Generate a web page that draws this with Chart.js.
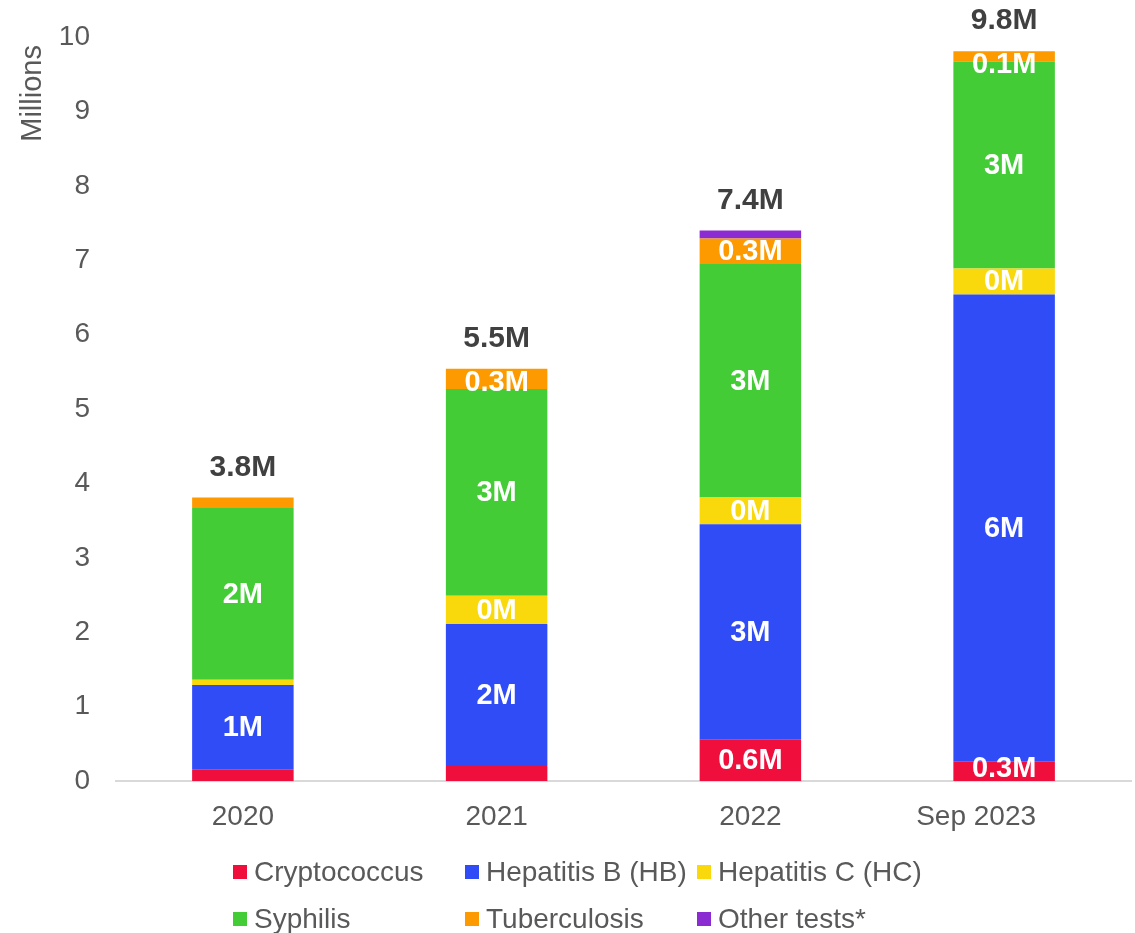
<!DOCTYPE html>
<html>
<head>
<meta charset="utf-8">
<title>Tests performed by year</title>
<script src="https://cdn.jsdelivr.net/npm/chart.js@4.4.1/dist/chart.umd.min.js"></script>
<style>
  html, body { margin: 0; padding: 0; background: #ffffff; }
  #wrap { width: 1135px; height: 933px; }
</style>
</head>
<body>
<div id="wrap"><canvas id="chart" width="1135" height="933"></canvas></div>
<script>
// Categories (x axis)
const categories = ['2020', '2021', '2022', 'Sep 2023'];

// Tests per year, in millions
const cryptococcus = [0.15, 0.20, 0.56, 0.26];
const hepatitisB   = [1.14, 1.91, 2.89, 6.28];
const hepatitisC   = [0.07, 0.38, 0.36, 0.35];
const syphilis     = [2.31, 2.78, 3.14, 2.78];
const tuberculosis = [0.14, 0.27, 0.34, 0.14];
const otherTests   = [0, 0, 0.11, 0];

// Which segments carry a value label
const cryptococcusLabels = [false, false, true, true];
const hepatitisBLabels   = [true, true, true, true];
const hepatitisCLabels   = [false, true, true, true];
const syphilisLabels     = [true, true, true, true];
const tuberculosisLabels = [false, true, true, true];
const otherTestsLabels   = [false, false, false, false];

// Y axis ticks
const yTicks = [0, 1, 2, 3, 4, 5, 6, 7, 8, 9, 10];

const FONT = '"Liberation Sans", Arial, Helvetica, sans-serif';
const GREY = '#595959';

function series(label, data, color, shown, decimals) {
  return { label, data, backgroundColor: color, borderWidth: 0, labelShown: shown, labelDecimals: decimals };
}

const datasets = [
  series('Cryptococcus', cryptococcus, '#EF0E3C', cryptococcusLabels, 1),
  series('Hepatitis B (HB)', hepatitisB, '#2F4CF6', hepatitisBLabels, 0),
  series('Hepatitis C (HC)', hepatitisC, '#FAD90C', hepatitisCLabels, 0),
  series('Syphilis', syphilis, '#44CC37', syphilisLabels, 0),
  series('Tuberculosis', tuberculosis, '#FD9A00', tuberculosisLabels, 1),
  series('Other tests*', otherTests, '#8B2BD2', otherTestsLabels, 1)
];

// Value labels inside segments and stack totals above each bar
const barLabels = {
  id: 'barLabels',
  afterDatasetsDraw(chart) {
    const ctx = chart.ctx;
    const n = chart.data.labels.length;
    ctx.save();
    ctx.textAlign = 'center';
    ctx.textBaseline = 'middle';
    for (let i = 0; i < n; i++) {
      let stackTop = Infinity, stackBase = -Infinity, total = 0, x = 0;
      chart.data.datasets.forEach((ds, d) => {
        const el = chart.getDatasetMeta(d).data[i];
        total += ds.data[i];
        if (ds.data[i] > 0) {
          stackTop = Math.min(stackTop, el.y);
          stackBase = Math.max(stackBase, el.base);
          x = el.x;
        }
      });
      // segment labels
      ctx.font = 'bold 29px ' + FONT;
      ctx.fillStyle = '#ffffff';
      const half = 13;
      chart.data.datasets.forEach((ds, d) => {
        if (!ds.labelShown[i]) return;
        const el = chart.getDatasetMeta(d).data[i];
        let cy = (el.y + el.base) / 2;
        cy = Math.max(cy, stackTop + half);
        cy = Math.min(cy, stackBase - half);
        ctx.fillText(ds.data[i].toFixed(ds.labelDecimals) + 'M', el.x, cy + 1);
      });
      // total
      ctx.font = 'bold 30px ' + FONT;
      ctx.fillStyle = '#404040';
      ctx.fillText(total.toFixed(1) + 'M', x, stackTop - 30);
    }
    ctx.restore();
  }
};

// Legend laid out as a three-column grid under the axis
const gridLegend = {
  id: 'gridLegend',
  afterDraw(chart) {
    const ctx = chart.ctx;
    const colW = 232;
    const x0 = Math.round(chart.width / 2 - 335);
    const rows = [872, 919];
    ctx.save();
    ctx.font = '28px ' + FONT;
    ctx.textBaseline = 'middle';
    ctx.textAlign = 'left';
    chart.data.datasets.forEach((ds, d) => {
      const col = d % 3, row = Math.floor(d / 3);
      const x = x0 + col * colW;
      const y = rows[row];
      ctx.fillStyle = ds.backgroundColor;
      ctx.fillRect(x, y - 7, 14, 14);
      ctx.fillStyle = GREY;
      ctx.fillText(ds.label, x + 21, y + 1);
    });
    ctx.restore();
  }
};

new Chart(document.getElementById('chart'), {
  type: 'bar',
  data: { labels: categories, datasets },
  options: {
    responsive: false,
    animation: false,
    devicePixelRatio: 1,
    categoryPercentage: 0.4,
    barPercentage: 1,
    layout: { padding: { top: 37, right: 4, bottom: 92, left: 0 } },
    plugins: {
      legend: { display: false },
      tooltip: { enabled: false }
    },
    scales: {
      x: {
        stacked: true,
        grid: { display: false, drawTicks: false },
        border: { display: true, color: '#D9D9D9', width: 2 },
        ticks: {
          color: GREY,
          font: { family: FONT, size: 28 },
          padding: 19,
          maxRotation: 0,
          callback: (v, i) => categories[i] === 'Sep 2023' ? 'Sep 2023\u2002\u2002\u2002\u2002' : categories[i]
        },
        afterFit: s => { s.height = 60; }
      },
      y: {
        stacked: true,
        min: 0,
        max: 10,
        grid: { display: false, drawTicks: false },
        border: { display: false },
        afterBuildTicks: s => { s.ticks = yTicks.map(v => ({ value: v })); },
        ticks: {
          color: GREY,
          font: { family: FONT, size: 28 },
          padding: 26
        },
        title: {
          display: true,
          text: 'Millions ',
          align: 'end',
          color: GREY,
          font: { family: FONT, size: 29 },
          padding: { top: 16, bottom: 0 }
        },
        afterFit: s => { s.width = 116; s.paddingTop = 0; s.paddingBottom = 0; }
      }
    }
  },
  plugins: [barLabels, gridLegend]
});
</script>
</body>
</html>
